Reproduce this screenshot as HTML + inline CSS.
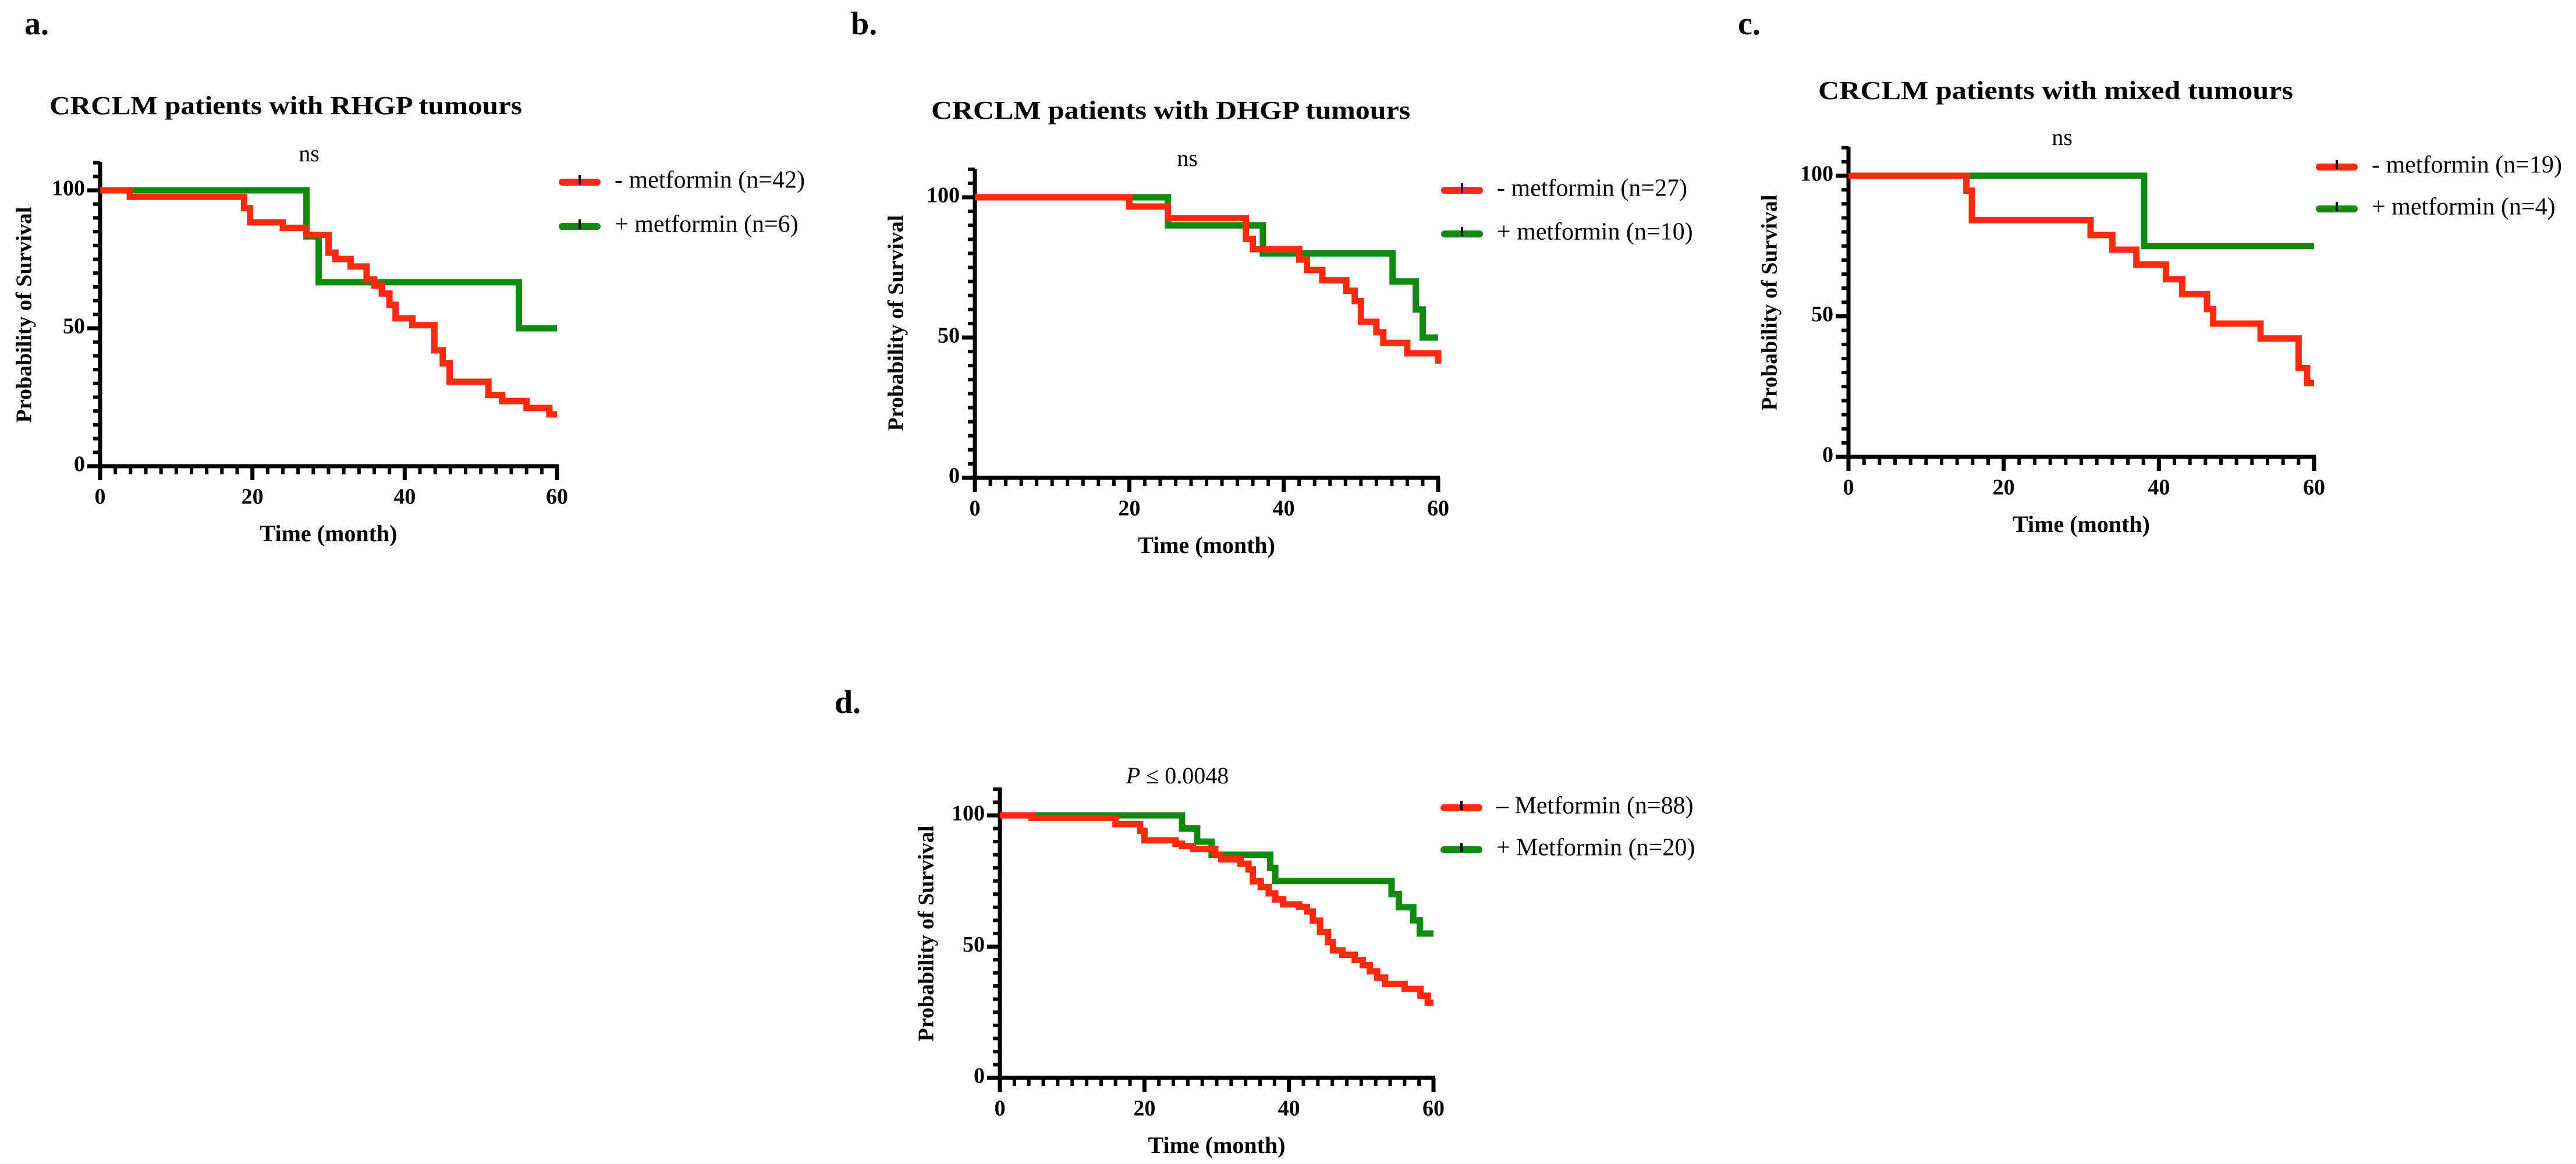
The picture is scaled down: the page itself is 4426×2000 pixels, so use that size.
<!DOCTYPE html>
<html><head><meta charset="utf-8">
<style>
html,body{margin:0;padding:0;background:#fff;}
svg{display:block;font-family:"Liberation Serif",serif;}
</style></head>
<body>
<svg id="fig" width="4426" height="2000" viewBox="0 0 4426 2000" xmlns="http://www.w3.org/2000/svg"></svg>
<script>
// Panel a data (months, survival %)
const aRedT=[3.9,18.9,19.7,24,27.1,30,30.9,32.9,35,36,37,38,38.8,41,43.9,45,45.9,51,52.8,56,59];
const aRedS=[97.6,93.5,88.4,86.4,83.8,77.4,75.1,72.4,67.7,65.5,62.6,58.5,53.6,51.1,42,37.3,30.6,25.8,23.6,21.1,18.8];
const aGrnT=[27.1,28.7,55];
const aGrnS=[83.3,66.7,50];
// Panel b data
const bRedT=[20,25,35.1,36,42,43,45,48.1,49.2,50,52,52.9,56,60];
const bRedS=[96.7,92.6,85.2,81.5,77.8,74.1,70.4,66.7,63,55.6,51.9,48.1,44.4,40.7];
const bGrnT=[25,37.3,54.1,57.1,58];
const bGrnS=[90,80,70,60,50];
// Panel c data
const cRedT=[15.2,15.9,31.2,34,37.1,40.9,43,46.2,47,53.1,58,59.1];
const cRedS=[94.7,84.2,78.9,73.7,68.4,63.2,57.9,52.6,47.4,42.1,31.6,26.3];
const cGrnT=[38.1];
const cGrnS=[75];
// Panel d data
const dRedT=[4.4,16,19.4,20,24.3,25.2,26.7,29.8,30.6,33.3,34.4,35,36.1,37.2,38.1,39.2,41.4,42.5,43.3,44.3,45.4,46.1,47.4,49.1,50.2,51.2,52.2,53.3,56,58.2,59.2];
const dRedS=[99,96.7,94.1,90.5,89.2,88.3,87.2,85,83.3,81.6,79.4,74.9,72.7,70.3,68,66.1,65.1,63.4,59.9,55.6,51.7,48.6,46.9,44.9,43,40.6,38.2,35.8,33.9,31.3,28.6];
const dGrnT=[25.2,27.3,29.3,37.4,38.1,54.2,55.2,57.2,58.1];
const dGrnS=[95,90,85,80,75,70,65,60,55];
const xTicks=[0,20,40,60];
const yTicks=[0,50,100];

const NS="http://www.w3.org/2000/svg";
const svg=document.getElementById('fig');
function mk(tag,attrs,parent){const e=document.createElementNS(NS,tag);for(const k in attrs)e.setAttribute(k,attrs[k]);(parent||svg).appendChild(e);return e;}
function txt(parent,x,y,s,size,weight,anchor,extra){const t=mk('text',Object.assign({x:x,y:y,'font-size':size,'font-weight':weight,'text-anchor':anchor||'start','dominant-baseline':'middle',fill:'#000'},extra||{}),parent);t.textContent=s;return t;}

function panel(p){
  const g=mk('g',{});
  
  
  const X=m=>p.x0+(p.x1-p.x0)*m/60;
  const Y=v=>p.y0-(p.y0-p.y100)*v/100;
  const lab=txt(g,p.lx,p.ly,p.letter,56,'bold');
  
  
  if(p.title){const t=txt(g,p.tx,p.ty,p.title,44,'bold','start',{textLength:p.tw,lengthAdjust:'spacingAndGlyphs'});
    
    }
  const st=txt(g,p.sx,p.sy,p.stat,40,'normal','middle');
  
  
  if(p.italicP){st.textContent='';const a=mk('tspan',{'font-style':'italic'},st);a.textContent='P';const b=mk('tspan',{},st);b.textContent=' ≤ 0.0048';}
  // axes
  const ax=mk('g',{stroke:'#000','stroke-width':7,fill:'none'},g);
  
  
  mk('line',{x1:p.x0,y1:p.ytop,x2:p.x0,y2:p.y0+3},ax);
  mk('line',{x1:p.x0-3,y1:p.y0,x2:p.x1+3,y2:p.y0},ax);
  for(let v=0;v<=110;v+=5){const major=v%50===0;mk('line',{x1:p.x0-(major?22:12),y1:Y(v),x2:p.x0,y2:Y(v),'stroke-width':major?7:6},ax);}
  for(let m=0;m<=60;m+=2){const major=m%20===0;mk('line',{x1:X(m),y1:p.y0,x2:X(m),y2:p.y0+(major?24:14),'stroke-width':major?7:6},ax);}
  xTicks.forEach(m=>{const t=txt(g,X(m),p.y0+56,String(m),38,'bold','middle');
    
    });
  yTicks.forEach(v=>{const t=txt(g,p.x0-26,Y(v),String(v),38,'bold','end');
    
    });
  const xt=txt(g,(p.x0+p.x1)/2,p.y0+120,'Time (month)',40,'bold','middle');
  
  
  const yt=txt(g,0,0,'Probability of Survival',38,'bold','middle',{transform:`translate(${p.ylx},${p.yly}) rotate(-90)`});
  
  
  function curve(T,S,color,name){let d=`M${X(0)},${Y(100)}`;for(let i=0;i<T.length;i++){d+=` H${X(T[i])} V${Y(S[i])}`;}d+=` H${X(60)}`;
    const pa=mk('path',{d:d,stroke:color,'stroke-width':11,fill:'none','stroke-linejoin':'miter'},g);
    
    }
  curve(p.gT,p.gS,'#0f8a10','metformin-plus-curve');
  curve(p.rT,p.rS,'#ff2a10','metformin-minus-curve');
  // legend
  [[p.legY1,'#ff2a10',p.leg1],[p.legY2,'#0f8a10',p.leg2]].forEach(([ly,c,s],i)=>{
    const lg=mk('g',{},g);
    
    
    mk('line',{x1:p.legX,y1:ly,x2:p.legX+60,y2:ly,stroke:c,'stroke-width':12,'stroke-linecap':'round'},lg);
    mk('line',{x1:p.legX+30,y1:ly-12,x2:p.legX+30,y2:ly+4,stroke:'#000','stroke-width':4},lg);
    txt(lg,p.legX+90,ly,s,42,'normal','start');
  });
}
panel({id:'a',letter:'a.',lx:42,ly:46,title:'CRCLM patients with RHGP tumours',tx:85,ty:186,tw:812,stat:'ns',sx:531,sy:268,
  x0:172,x1:957,y0:801,y100:327,ytop:278,ylx:45,yly:541,rT:aRedT,rS:aRedS,gT:aGrnT,gS:aGrnS,
  legX:966,legY1:313,legY2:389,leg1:'- metformin  (n=42)',leg2:'+ metformin (n=6)'});
panel({id:'b',letter:'b.',lx:1462,ly:46,title:'CRCLM patients with DHGP tumours',tx:1600,ty:194,tw:823,stat:'ns',sx:2040,sy:276,
  x0:1675,x1:2471,y0:821,y100:339,ytop:290,ylx:1543,yly:555,rT:bRedT,rS:bRedS,gT:bGrnT,gS:bGrnS,
  legX:2482,legY1:327,legY2:402,leg1:'- metformin  (n=27)',leg2:'+ metformin (n=10)'});
panel({id:'c',letter:'c.',lx:2986,ly:46,title:'CRCLM patients with mixed tumours',tx:3124,ty:160,tw:816,stat:'ns',sx:3543,sy:240,
  x0:3176,x1:3976,y0:785,y100:302,ytop:252,ylx:3044,yly:520,rT:cRedT,rS:cRedS,gT:cGrnT,gS:cGrnS,
  legX:3985,legY1:287,legY2:359,leg1:'- metformin (n=19)',leg2:'+ metformin (n=4)'});
panel({id:'d',letter:'d.',lx:1434,ly:1212,title:'',stat:'P ≤ 0.0048',italicP:true,sx:2023,sy:1337,
  x0:1718,x1:2463,y0:1852,y100:1401,ytop:1353,ylx:1595,yly:1604,rT:dRedT,rS:dRedS,gT:dGrnT,gS:dGrnS,
  legX:2481,legY1:1388,legY2:1460,leg1:'– Metformin (n=88)',leg2:'+ Metformin (n=20)'});
</script>
</body></html>
